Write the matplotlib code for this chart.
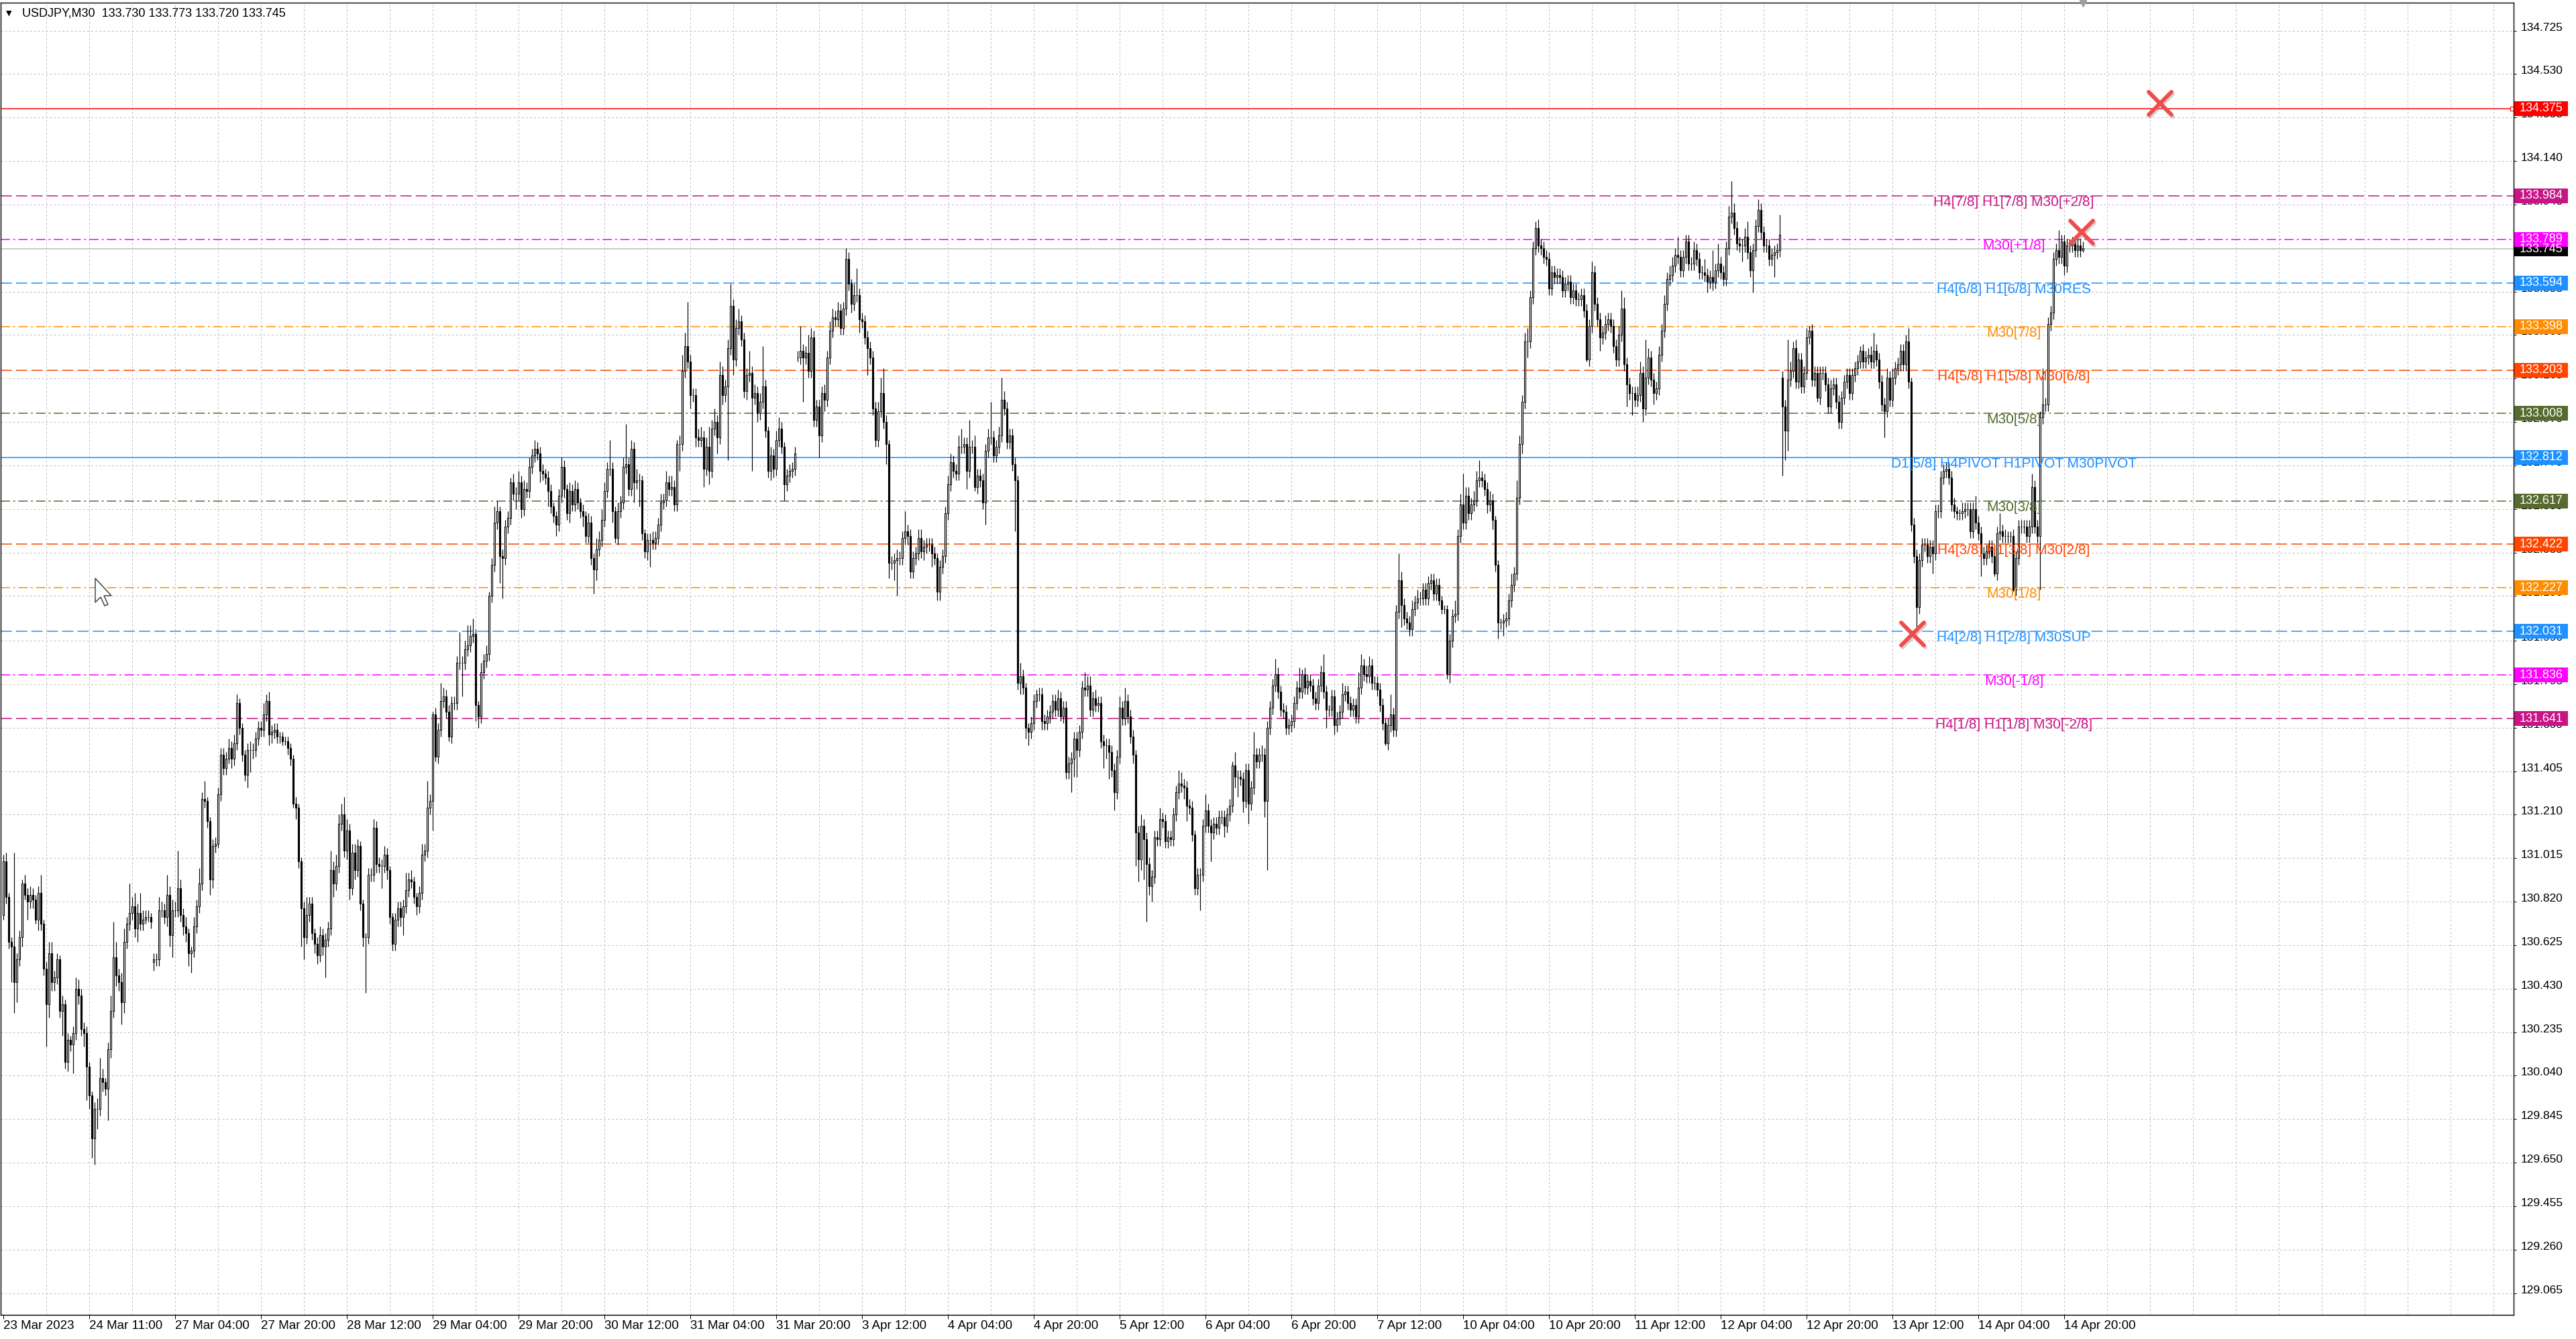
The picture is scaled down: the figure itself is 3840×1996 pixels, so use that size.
import numpy as np
import matplotlib
matplotlib.use("Agg")
import matplotlib.pyplot as plt
import matplotlib.transforms as mtransforms
from matplotlib.patches import Rectangle, Polygon
from matplotlib.markers import MarkerStyle

plt.rcParams['font.family'] = ['Liberation Sans', 'DejaVu Sans']
plt.rcParams['lines.scale_dashes'] = False

# ---- USDJPY M30 bars, prices in 0.01 JPY above BASE ----
BASE = 129.00
first_open = 176
close_cents = [
    200, 184, 164, 162, 146, 156, 166, 190, 185, 182,
    185, 183, 174, 186, 172, 152, 136, 159, 146, 148,
    156, 133, 136, 110, 120, 118, 123, 143, 140, 125,
    123, 108, 95, 76, 89, 89, 103, 101, 98, 116,
    133, 157, 149, 146, 137, 164, 172, 177, 180, 170,
    177, 172, 174, 175, 175, 173, 156, 156, 178, 178,
    175, 185, 167, 178, 178, 188, 176, 171, 168, 159,
    160, 171, 180, 190, 228, 227, 218, 192, 207, 208,
    230, 248, 242, 246, 251, 246, 253, 271, 260, 248,
    239, 250, 250, 250, 255, 260, 259, 266, 272, 257,
    258, 259, 256, 256, 254, 254, 251, 246, 226, 224,
    200, 179, 166, 176, 181, 168, 163, 158, 167, 162,
    165, 170, 196, 190, 198, 217, 221, 205, 214, 188,
    204, 196, 207, 181, 166, 166, 194, 194, 215, 199,
    198, 198, 203, 196, 175, 163, 174, 179, 175, 180,
    187, 192, 191, 184, 180, 186, 203, 205, 224, 227,
    266, 247, 259, 272, 274, 267, 256, 271, 271, 289,
    289, 289, 295, 297, 301, 302, 270, 265, 285, 290,
    293, 319, 333, 352, 357, 337, 336, 350, 354, 370,
    365, 365, 370, 358, 367, 366, 377, 382, 385, 383,
    375, 374, 372, 366, 359, 355, 351, 364, 377, 367,
    356, 366, 360, 367, 361, 357, 355, 346, 352, 336,
    331, 340, 344, 353, 366, 376, 376, 357, 345, 357,
    361, 377, 378, 367, 385, 370, 371, 371, 347, 339,
    344, 344, 343, 345, 351, 361, 362, 370, 367, 368,
    360, 387, 387, 420, 431, 424, 409, 409, 390, 389,
    390, 376, 386, 375, 394, 397, 390, 418, 409, 413,
    430, 449, 425, 439, 442, 434, 411, 418, 419, 408,
    410, 401, 406, 413, 393, 375, 382, 376, 389, 394,
    386, 369, 373, 375, 376, 383, 426, 429, 426, 428,
    420, 435, 398, 404, 391, 410, 407, 426, 438, 444,
    443, 447, 439, 448, 470, 459, 450, 454, 454, 443,
    442, 435, 430, 426, 403, 389, 402, 410, 397, 387,
    334, 334, 335, 336, 336, 345, 348, 346, 330, 336,
    338, 345, 339, 341, 342, 342, 338, 336, 321, 332,
    337, 356, 369, 379, 375, 374, 386, 386, 387, 375,
    386, 386, 368, 373, 371, 361, 384, 390, 390, 382,
    386, 391, 407, 403, 388, 391, 378, 371, 280, 283,
    278, 260, 258, 262, 272, 275, 275, 263, 262, 265,
    267, 272, 268, 273, 265, 269, 240, 244, 246, 255,
    250, 258, 278, 277, 279, 268, 273, 270, 271, 254,
    252, 252, 249, 241, 231, 247, 269, 264, 272, 265,
    256, 248, 213, 201, 216, 210, 199, 189, 193, 211,
    210, 219, 218, 209, 211, 210, 221, 231, 235, 234,
    233, 225, 224, 212, 188, 194, 194, 216, 223, 216,
    213, 217, 215, 220, 220, 216, 221, 225, 243, 238,
    238, 237, 227, 241, 226, 233, 248, 245, 248, 248,
    227, 260, 269, 279, 284, 276, 268, 267, 260, 261,
    263, 271, 278, 276, 284, 278, 281, 279, 273, 271,
    279, 285, 276, 268, 268, 274, 261, 264, 267, 275,
    276, 271, 268, 270, 265, 278, 288, 284, 283, 288,
    280, 280, 277, 270, 262, 253, 261, 266, 259, 312,
    326, 315, 309, 307, 304, 313, 316, 318, 318, 322,
    318, 325, 326, 320, 324, 317, 313, 313, 284, 299,
    310, 311, 346, 360, 352, 364, 356, 360, 362, 371,
    372, 371, 367, 360, 362, 353, 333, 307, 307, 308,
    309, 317, 324, 329, 363, 387, 406, 433, 433, 453,
    475, 484, 476, 475, 471, 470, 457, 464, 462, 463,
    462, 456, 459, 460, 453, 456, 452, 452, 454, 447,
    425, 440, 464, 450, 443, 435, 437, 441, 443, 440,
    431, 425, 436, 448, 423, 414, 410, 410, 407, 409,
    419, 403, 417, 426, 416, 410, 412, 427, 438, 450,
    461, 463, 467, 472, 471, 465, 471, 478, 468, 468,
    474, 470, 464, 464, 463, 460, 462, 460, 465, 468,
    464, 461, 475, 489, 491, 484, 477, 476, 476, 480,
    473, 465, 474, 485, 492, 482, 476, 476, 470, 472,
    473, 474, 481, 404, 393, 416, 420, 430, 415, 425,
    413, 419, 435, 438, 416, 419, 408, 419, 419, 414,
    404, 412, 414, 406, 397, 408, 415, 418, 410, 418,
    421, 424, 429, 424, 426, 427, 424, 429, 425, 415,
    405, 402, 417, 407, 417, 421, 423, 429, 423, 433,
    415, 351, 337, 314, 335, 342, 342, 337, 341, 338,
    357, 357, 372, 375, 376, 372, 360, 357, 356, 356,
    357, 358, 358, 348, 358, 352, 347, 338, 336, 339,
    341, 337, 329, 347, 348, 346, 346, 346, 346, 322,
    336, 350, 350, 350, 346, 350, 368, 350, 346, 399,
    405, 405, 441, 446, 470, 474, 471, 478, 467, 476,
    476, 477, 474, 476, 474, 475,
]
upper_wick = [
    3, 4, 2, 2, 42, 3, 3, 2, 4, 3,
    4, 3, 2, 3, 8, 2, 3, 5, 5, 3,
    3, 2, 4, 2, 3, 2, 3, 5, 4, 3,
    3, 3, 2, 2, 3, 5, 9, 4, 2, 3,
    7, 16, 7, 3, 4, 6, 3, 13, 4, 6,
    4, 9, 4, 3, 3, 2, 3, 3, 6, 4,
    3, 9, 4, 5, 4, 17, 4, 3, 4, 2,
    2, 4, 3, 7, 3, 8, 2, 2, 3, 3,
    3, 3, 3, 3, 4, 3, 4, 4, 2, 2,
    2, 3, 4, 3, 3, 3, 3, 5, 3, 4,
    3, 3, 3, 2, 2, 2, 2, 2, 2, 3,
    2, 2, 3, 8, 3, 3, 2, 3, 4, 3,
    3, 3, 9, 4, 5, 4, 5, 8, 5, 3,
    4, 4, 3, 2, 2, 2, 3, 3, 4, 3,
    3, 3, 4, 3, 2, 2, 3, 3, 3, 3,
    8, 3, 4, 2, 2, 3, 5, 3, 12, 3,
    1, 3, 3, 8, 4, 3, 3, 3, 3, 3,
    14, 3, 4, 9, 5, 7, 2, 2, 4, 3,
    4, 2, 3, 7, 5, 2, 3, 3, 3, 2,
    4, 3, 5, 3, 4, 3, 4, 3, 4, 3,
    3, 3, 2, 3, 3, 2, 2, 3, 4, 3,
    2, 4, 3, 4, 3, 2, 3, 2, 4, 3,
    2, 5, 4, 5, 4, 3, 13, 3, 2, 4,
    3, 4, 18, 3, 4, 3, 5, 3, 2, 2,
    3, 3, 4, 3, 3, 4, 3, 5, 3, 5,
    3, 2, 4, 7, 6, 20, 3, 3, 3, 4,
    5, 3, 4, 9, 4, 6, 3, 6, 4, 3,
    4, 10, 3, 4, 6, 3, 3, 3, 10, 3,
    4, 3, 4, 18, 3, 2, 4, 3, 4, 5,
    3, 2, 3, 3, 3, 3, 3, 11, 3, 3,
    8, 4, 3, 3, 3, 3, 4, 3, 4, 4,
    3, 4, 3, 3, 5, 3, 2, 5, 12, 3,
    3, 3, 3, 3, 3, 3, 4, 7, 11, 3,
    2, 3, 3, 4, 3, 3, 9, 3, 3, 3,
    3, 4, 4, 3, 3, 3, 3, 3, 2, 3,
    3, 3, 4, 4, 3, 3, 5, 8, 3, 3,
    12, 3, 5, 3, 3, 3, 3, 4, 16, 3,
    3, 4, 10, 4, 3, 3, 3, 3, 2, 6,
    3, 2, 2, 3, 3, 2, 3, 3, 3, 3,
    3, 3, 3, 4, 3, 3, 3, 3, 3, 3,
    3, 3, 3, 7, 4, 4, 3, 4, 3, 3,
    3, 3, 3, 3, 3, 3, 5, 3, 6, 3,
    3, 3, 2, 3, 5, 3, 3, 3, 3, 3,
    3, 5, 3, 3, 3, 3, 3, 3, 6, 5,
    3, 3, 3, 3, 2, 3, 3, 3, 7, 3,
    3, 3, 3, 3, 3, 3, 3, 3, 2, 6,
    3, 3, 3, 3, 3, 3, 10, 3, 3, 4,
    3, 3, 3, 3, 7, 3, 3, 3, 3, 3,
    3, 3, 3, 9, 2, 3, 3, 3, 3, 3,
    3, 3, 8, 3, 2, 3, 3, 3, 3, 5,
    3, 3, 3, 3, 3, 7, 5, 3, 4, 4,
    3, 3, 3, 3, 3, 2, 3, 9, 3, 3,
    12, 4, 3, 3, 3, 4, 3, 4, 3, 3,
    3, 3, 3, 3, 3, 3, 2, 2, 2, 3,
    3, 6, 3, 5, 14, 4, 4, 3, 4, 4,
    8, 3, 3, 3, 4, 3, 2, 2, 2, 3,
    3, 3, 5, 3, 8, 4, 3, 4, 6, 3,
    3, 3, 4, 3, 3, 3, 3, 3, 3, 3,
    3, 3, 3, 3, 3, 3, 3, 3, 3, 3,
    3, 3, 5, 3, 3, 3, 3, 4, 3, 3,
    3, 3, 4, 8, 5, 3, 3, 3, 3, 4,
    5, 3, 17, 4, 3, 3, 3, 4, 3, 4,
    3, 4, 4, 3, 8, 3, 3, 3, 3, 3,
    4, 3, 3, 3, 6, 3, 3, 12, 3, 9,
    3, 3, 3, 5, 14, 4, 3, 3, 3, 4,
    7, 3, 3, 3, 5, 3, 3, 3, 3, 3,
    3, 3, 9, 3, 3, 18, 4, 3, 4, 3,
    3, 3, 4, 2, 3, 3, 3, 3, 3, 3,
    3, 4, 3, 3, 3, 3, 3, 3, 3, 3,
    3, 3, 2, 3, 3, 3, 4, 8, 3, 3,
    3, 3, 4, 3, 4, 3, 3, 3, 3, 3,
    6, 2, 3, 3, 3, 3, 3, 3, 3, 3,
    3, 3, 3, 3, 3, 3, 3, 3, 2, 2,
    4, 3, 3, 3, 3, 6, 3, 3, 3, 3,
    3, 3, 3, 3, 8, 3, 3, 2, 2, 3,
    3, 3, 3, 3, 3, 3, 6, 3, 3, 3,
    16, 3, 3, 3, 3, 3, 9, 3, 3, 3,
    3, 3, 3, 3, 3, 3,
]
lower_wick = [
    2, 3, 3, 16, 14, 9, 3, 4, 2, 8,
    3, 4, 2, 5, 3, 3, 19, 6, 4, 4,
    3, 3, 11, 3, 4, 3, 13, 3, 4, 3,
    6, 15, 6, 9, 12, 9, 3, 4, 3, 14,
    4, 3, 5, 4, 10, 5, 3, 3, 3, 4,
    6, 3, 3, 2, 2, 3, 4, 3, 3, 3,
    3, 4, 5, 10, 3, 3, 3, 4, 4, 6,
    9, 3, 3, 3, 3, 3, 3, 7, 4, 3,
    2, 3, 3, 3, 2, 4, 3, 3, 3, 3,
    3, 6, 10, 4, 3, 3, 3, 3, 3, 5,
    4, 3, 3, 3, 2, 2, 3, 3, 2, 5,
    3, 17, 10, 3, 3, 3, 4, 4, 3, 4,
    14, 3, 3, 6, 3, 3, 3, 3, 4, 5,
    3, 4, 3, 3, 4, 25, 3, 3, 3, 4,
    3, 10, 3, 4, 3, 3, 3, 3, 4, 8,
    3, 3, 3, 3, 4, 3, 3, 3, 3, 3,
    13, 2, 3, 3, 3, 3, 2, 3, 3, 3,
    3, 15, 3, 3, 3, 3, 7, 5, 3, 3,
    3, 3, 3, 3, 3, 12, 18, 3, 3, 3,
    3, 7, 3, 4, 3, 3, 3, 3, 3, 3,
    5, 3, 3, 7, 3, 3, 5, 3, 3, 4,
    3, 4, 3, 3, 3, 3, 5, 3, 3, 3,
    11, 5, 3, 3, 3, 3, 3, 5, 2, 3,
    3, 3, 3, 3, 3, 9, 3, 12, 3, 3,
    4, 12, 3, 3, 3, 3, 3, 3, 3, 3,
    3, 3, 12, 3, 3, 3, 6, 3, 4, 3,
    3, 8, 3, 6, 3, 3, 7, 3, 4, 3,
    33, 3, 7, 3, 3, 3, 3, 4, 3, 33,
    3, 4, 3, 3, 3, 3, 4, 4, 3, 3,
    3, 7, 3, 3, 3, 3, 2, 3, 20, 3,
    3, 3, 3, 3, 10, 3, 5, 3, 3, 3,
    3, 3, 3, 3, 3, 3, 4, 3, 3, 6,
    3, 3, 12, 3, 3, 3, 3, 3, 3, 9,
    7, 3, 8, 16, 3, 3, 3, 4, 3, 3,
    3, 3, 3, 4, 3, 3, 6, 3, 4, 4,
    3, 3, 3, 3, 3, 3, 3, 3, 3, 8,
    3, 3, 2, 3, 3, 3, 10, 3, 3, 3,
    3, 3, 3, 3, 3, 3, 3, 23, 3, 5,
    3, 5, 6, 3, 3, 3, 3, 4, 3, 3,
    3, 3, 3, 3, 2, 3, 3, 3, 13, 8,
    12, 3, 3, 3, 3, 3, 3, 3, 3, 3,
    10, 6, 12, 3, 8, 3, 3, 3, 3, 3,
    3, 4, 15, 10, 5, 18, 26, 4, 7, 3,
    3, 3, 3, 3, 3, 3, 3, 3, 3, 3,
    5, 7, 3, 3, 3, 3, 16, 3, 3, 3,
    13, 3, 3, 3, 3, 5, 3, 3, 3, 5,
    9, 3, 5, 3, 9, 3, 3, 3, 3, 3,
    7, 31, 3, 3, 3, 3, 3, 3, 3, 3,
    3, 3, 3, 3, 3, 3, 3, 3, 3, 3,
    3, 3, 3, 8, 3, 3, 4, 3, 3, 3,
    3, 3, 3, 3, 3, 3, 3, 3, 3, 3,
    3, 3, 3, 3, 3, 1, 3, 3, 3, 3,
    3, 10, 3, 3, 3, 3, 3, 3, 3, 3,
    3, 3, 3, 3, 3, 2, 2, 2, 2, 4,
    3, 3, 3, 3, 3, 3, 3, 3, 3, 3,
    3, 3, 3, 4, 3, 4, 3, 7, 3, 6,
    3, 3, 3, 3, 3, 3, 4, 3, 7, 3,
    3, 3, 3, 3, 3, 3, 3, 3, 3, 3,
    3, 3, 3, 3, 3, 3, 3, 3, 3, 3,
    1, 3, 3, 3, 3, 6, 3, 3, 3, 3,
    3, 3, 3, 3, 3, 10, 3, 10, 3, 3,
    3, 6, 3, 3, 3, 5, 3, 3, 3, 3,
    3, 3, 3, 3, 3, 3, 3, 3, 3, 3,
    3, 3, 3, 3, 3, 5, 3, 4, 3, 3,
    3, 3, 3, 3, 3, 3, 3, 3, 7, 3,
    3, 3, 10, 3, 3, 3, 3, 3, 3, 3,
    10, 3, 3, 31, 13, 9, 3, 3, 3, 3,
    3, 3, 3, 3, 3, 3, 2, 3, 3, 3,
    3, 3, 3, 3, 3, 3, 3, 3, 3, 3,
    3, 3, 3, 3, 3, 3, 3, 3, 3, 3,
    3, 12, 3, 3, 3, 3, 3, 3, 3, 3,
    3, 3, 3, 10, 3, 3, 3, 3, 3, 9,
    3, 3, 3, 3, 3, 3, 3, 3, 3, 3,
    3, 3, 3, 3, 3, 3, 3, 10, 3, 3,
    3, 3, 1, 3, 3, 3, 3, 3, 3, 1,
    3, 3, 3, 3, 3, 3, 3, 3, 3, 24,
    3, 3, 3, 3, 3, 3, 3, 3, 4, 3,
    3, 3, 3, 3, 3, 1,
]
# bars that open away from the previous close (weekend / data gaps)
gap_opens = {56: 155, 296: 426, 663: 417}

title_text = "USDJPY,M30  133.730 133.773 133.720 133.745"
bid_price = 133.745
target_price = 134.375

level_prices = [133.984, 133.789, 133.594, 133.398, 133.203, 133.008, 132.812,
                132.617, 132.422, 132.227, 132.031, 131.836, 131.641]
level_colors = ['#c71585', '#ff00ff', '#1e90ff', '#ff8c00', '#ff4500', '#556b2f', '#1e90ff',
                '#556b2f', '#ff4500', '#ff8c00', '#1e90ff', '#ff00ff', '#c71585']
level_styles = ['dash', 'dashdot', 'dash', 'dashdot', 'dash', 'dashdot', 'solid',
                'dashdot', 'dash', 'dashdot', 'dash', 'dashdot', 'dash']
level_names = ['H4[7/8] H1[7/8] M30[+2/8]', 'M30[+1/8]', 'H4[6/8] H1[6/8] M30RES', 'M30[7/8]',
               'H4[5/8] H1[5/8] M30[6/8]', 'M30[5/8]', 'D1[5/8] H4PIVOT H1PIVOT M30PIVOT',
               'M30[3/8]', 'H4[3/8] H1[3/8] M30[2/8]', 'M30[1/8]', 'H4[2/8] H1[2/8] M30SUP',
               'M30[-1/8]', 'H4[1/8] H1[1/8] M30[-2/8]']

signal_bars = [803.75, 774.5, 711.5]
signal_prices = [134.40, 133.82, 132.02]

xtick_labels = ['23 Mar 2023', '24 Mar 11:00', '27 Mar 04:00', '27 Mar 20:00', '28 Mar 12:00',
                '29 Mar 04:00', '29 Mar 20:00', '30 Mar 12:00', '31 Mar 04:00', '31 Mar 20:00',
                '3 Apr 12:00', '4 Apr 04:00', '4 Apr 20:00', '5 Apr 12:00', '6 Apr 04:00',
                '6 Apr 20:00', '7 Apr 12:00', '10 Apr 04:00', '10 Apr 20:00', '11 Apr 12:00',
                '12 Apr 04:00', '12 Apr 20:00', '13 Apr 12:00', '14 Apr 04:00', '14 Apr 20:00']
ytick_values = [134.725, 134.530, 134.335, 134.140, 133.945, 133.750, 133.555, 133.360,
                133.165, 132.970, 132.775, 132.580, 132.385, 132.190, 131.990, 131.795,
                131.600, 131.405, 131.210, 131.015, 130.820, 130.625, 130.430, 130.235,
                130.040, 129.845, 129.650, 129.455, 129.260, 129.065]

n = len(close_cents)
assert len(upper_wick) == n and len(lower_wick) == n

c = np.array(close_cents, dtype=float)
o = np.empty(n)
o[0] = first_open
o[1:] = c[:-1]
for k, v in gap_opens.items():
    o[k] = v
hi = np.maximum(o, c) + np.array(upper_wick)
lo = np.minimum(o, c) - np.array(lower_wick)
c, o, hi, lo = [BASE + a / 100.0 for a in (c, o, hi, lo)]

W, H = 3840, 1996
fig = plt.figure(figsize=(W / 100, H / 100), dpi=100, facecolor='white')
ax = fig.add_axes([1 / W, 36 / H, 3746 / W, 1956 / H])
ax.set_xlim(-1.0, 935.5)
ax.set_ylim(128.9676, 134.850)

px = 0.72  # one pixel in points
grid_kw = dict(color='#c0c0c0', lw=px, ls=(0, (2.2, 2.2)), zorder=1)
for b in range(16, 936, 16):
    ax.axvline(b, **grid_kw)
for v in ytick_values:
    ax.axhline(v, **grid_kw)

dash_map = {'dash': (0, (12, 4.5)), 'dashdot': (0, (10, 3.5, 2, 3.5)), 'solid': '-'}
ax.axhline(bid_price, color='#c0c0c0', lw=1.1, zorder=1.5)
ax.axhline(target_price, color='#ff0000', lw=1.1, zorder=1.5)
ax.plot([935.0], [target_price], marker='s', ms=4, mfc='white', mec='red', mew=0.8, zorder=2)
for p, col, st, name in zip(level_prices, level_colors, level_styles, level_names):
    ax.axhline(p, color=col, lw=1.1, ls=dash_map[st], zorder=1.6)
    ax.text(749.25, p, name, color=col, fontsize=15, ha='center', va='top', zorder=5)

# candles
x = np.arange(n)
ax.vlines(x, lo, hi, color='black', lw=0.85, zorder=3)
up = c >= o
ax.bar(x[up], (c - o)[up], bottom=o[up], width=0.55, facecolor='white',
       edgecolor='black', linewidth=0.8, zorder=4)
ax.bar(x[~up], (o - c)[~up], bottom=c[~up], width=0.55, facecolor='black',
       edgecolor='black', linewidth=0.8, zorder=4)

# red cross signals with a soft shadow
xm = MarkerStyle('x', capstyle='round')
shadow = ax.transData + mtransforms.ScaledTranslation(2 / 100, -3 / 100, fig.dpi_scale_trans)
ax.plot(signal_bars, signal_prices, ls='none', marker=xm, ms=24, mew=4.2,
        color='#808080', alpha=0.35, transform=shadow, zorder=6)
ax.plot(signal_bars, signal_prices, ls='none', marker=xm, ms=24, mew=4.2,
        color='#f24b4b', zorder=7)

# chart shift marker
ax.plot([775], [1.0], marker='v', ms=9, color='#a0a0a0', clip_on=False,
        transform=mtransforms.blended_transform_factory(ax.transData, ax.transAxes), zorder=8)

# mouse pointer left on the chart (pixel outline, y downward from its tip)
cursor_tip = (142, 862)
cursor_shape = [(0, 0), (0, 36), (8, 28), (14, 41), (19, 39), (13, 26), (24, 26)]
cursor_pts = [((cursor_tip[0] + dx) / W, 1 - (cursor_tip[1] + dy) / H) for dx, dy in cursor_shape]
fig.patches.append(Polygon(cursor_pts, closed=True, transform=fig.transFigure,
                           facecolor='white', edgecolor='#333333', linewidth=1.0, zorder=30))

# axes styling
for sp in ax.spines.values():
    sp.set_linewidth(1.0)
    sp.set_color('black')
ax.yaxis.tick_right()
ax.set_yticks(ytick_values, ['%.3f' % v for v in ytick_values], va='baseline')
ax.tick_params(axis='y', direction='out', length=3, width=px, pad=5, labelsize=12.5)
ax.set_xticks(list(range(0, 32 * len(xtick_labels), 32)), xtick_labels, ha='left')
ax.tick_params(axis='x', direction='out', length=4, width=px, pad=2, labelsize=13.5)

# right-side price boxes
box_tr = mtransforms.blended_transform_factory(fig.transFigure, ax.transData)
box_h = 22 / 332.5


def price_box(price, color):
    ax.add_patch(Rectangle((3748 / W, price - box_h / 2), 80 / W, box_h, transform=box_tr,
                           facecolor=color, edgecolor='none', clip_on=False, zorder=20))
    ax.text(3756 / W, price, '%.3f' % price, transform=box_tr, color='white', fontsize=13,
            ha='left', va='center', clip_on=False, zorder=21)


price_box(bid_price, 'black')
price_box(target_price, '#ff0000')
for p, col in zip(level_prices, level_colors):
    price_box(p, col)

# header
fig.text(9 / W, 1 - 20 / H, '\u25bc', fontsize=8, va='center', ha='left', family='DejaVu Sans')
fig.text(33 / W, 1 - 20 / H, title_text, fontsize=13, va='center', ha='left')

fig.savefig('out.png', dpi=100, facecolor='white')
